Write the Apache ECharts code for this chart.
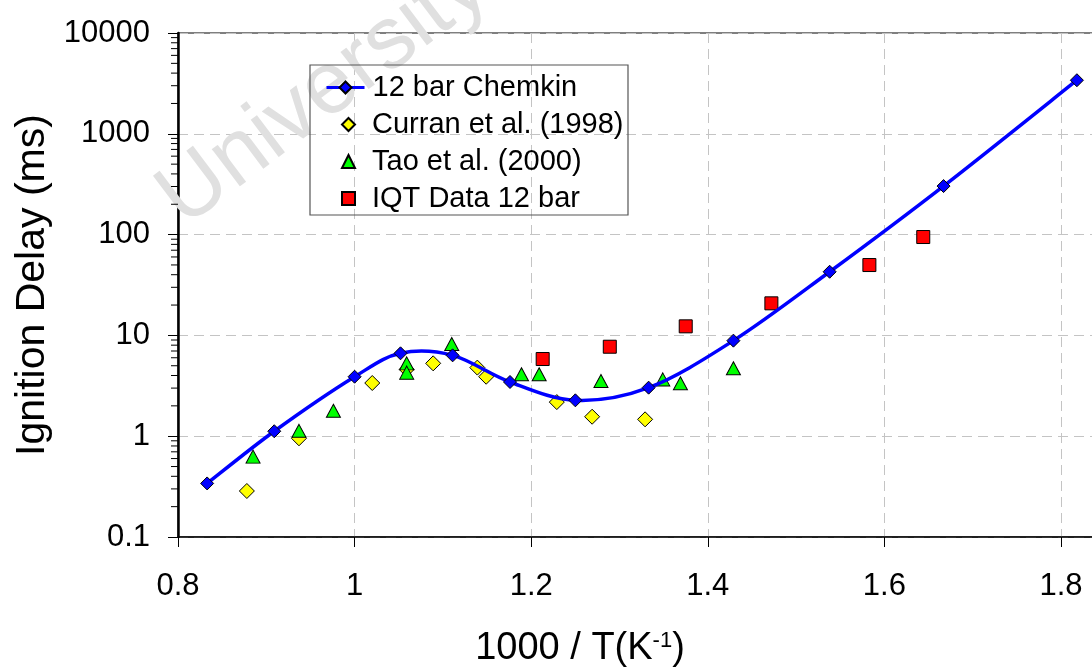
<!DOCTYPE html>
<html>
<head>
<meta charset="utf-8">
<script src="https://cdn.jsdelivr.net/npm/echarts@6/dist/echarts.min.js"></script>
<style>html,body{margin:0;padding:0;background:#fff;}#c{width:1092px;height:671px;}</style>
</head>
<body>
<div id="c"></div>
<script>
// ---- data ----
const chemkinX = [0.833, 0.909, 1.0, 1.052, 1.111, 1.176, 1.25, 1.333, 1.429, 1.538, 1.667, 1.818];
const chemkinY = [0.34, 1.12, 3.89, 6.64, 6.34, 3.45, 2.27, 3.03, 8.87, 42.8, 303, 3400];
const curranX = [0.878, 0.937, 1.02, 1.059, 1.089, 1.139, 1.149, 1.229, 1.269, 1.329];
const curranY = [0.286, 0.953, 3.37, 4.6, 5.28, 4.79, 3.89, 2.18, 1.56, 1.47];
const taoX = [0.885, 0.937, 0.976, 1.059, 1.059, 1.11, 1.189, 1.209, 1.279, 1.349, 1.369, 1.429];
const taoY = [0.627, 1.13, 1.79, 5.28, 4.27, 8.22, 4.11, 4.11, 3.53, 3.66, 3.35, 4.72];
const iqtX = [1.213, 1.289, 1.375, 1.472, 1.583, 1.644];
const iqtY = [5.83, 7.72, 12.3, 20.8, 49.9, 94.6];
const seriesNames = ['12 bar Chemkin', 'Curran et al. (1998)', 'Tao et al. (2000)', 'IQT Data 12 bar'];
const xTicks = [0.8, 1, 1.2, 1.4, 1.6, 1.8];
const yDecades = [0.1, 1, 10, 100, 1000, 10000];
const minorMultipliers = [2, 3, 4, 5, 6, 7, 8, 9];

const pair = (xs, ys) => xs.map((x, i) => [x, ys[i]]);
const minorTicks = [];
yDecades.slice(0, -1).forEach(d => minorMultipliers.forEach(m => minorTicks.push(+(d * m).toPrecision(3))));

const FONT = "'Liberation Sans', Arial, sans-serif";
const chart = echarts.init(document.getElementById('c'), null, {renderer: 'canvas'});
const gridLine = {show: true, lineStyle: {color: '#c4c4c4', type: [10, 6], width: 1}};
const BLUE = '#0000FF';

// Spreadsheet-style smoothed curve (cardinal spline, 1/6 tension) through the Chemkin points,
// positioned with the chart's own coordinate system.
function smoothPath(api) {
  const p = chemkinX.map((x, i) => api.coord([x, chemkinY[i]]));
  const n = p.length;
  let d = 'M' + p[0][0] + ',' + p[0][1];
  for (let i = 0; i < n - 1; i++) {
    const p0 = p[Math.max(i - 1, 0)], p1 = p[i], p2 = p[i + 1], p3 = p[Math.min(i + 2, n - 1)];
    const c1 = [p1[0] + (p2[0] - p0[0]) / 6, p1[1] + (p2[1] - p0[1]) / 6];
    const c2 = [p2[0] - (p3[0] - p1[0]) / 6, p2[1] - (p3[1] - p1[1]) / 6];
    d += 'C' + c1[0] + ',' + c1[1] + ',' + c2[0] + ',' + c2[1] + ',' + p2[0] + ',' + p2[1];
  }
  return d;
}

const legendText = {fontFamily: FONT, fontSize: 29, lineHeight: 37, color: '#000'};

chart.setOption({
  animation: false,
  backgroundColor: '#fff',
  grid: {left: 178, top: 33, width: 1059.6, height: 504, show: true, borderColor: '#555', borderWidth: 1.5, outerBoundsMode: 'none'},
  legend: [
    {
      left: 325, top: 69, orient: 'vertical', padding: 0, itemGap: 0,
      itemWidth: 38, itemHeight: 15,
      textStyle: Object.assign({padding: [0, 0, 0, 3]}, legendText),
      data: [{name: seriesNames[0], lineStyle: {color: BLUE, width: 3, opacity: 1, type: 'solid'}}]
    },
    {
      left: 341, top: 106, orient: 'vertical', padding: 0, itemGap: 0,
      itemWidth: 13, itemHeight: 13,
      textStyle: Object.assign({padding: [0, 0, 0, 12]}, legendText),
      data: seriesNames.slice(1)
    }
  ],
  graphic: [
    {type: 'rect', z: 5, shape: {x: 310, y: 65, width: 318, height: 150}, style: {fill: 'transparent', stroke: '#555', lineWidth: 1.2}},
    {type: 'text', z: 1, x: 196, y: 244, rotation: 37 * Math.PI / 180,
     style: {text: 'University', font: "88px 'Liberation Sans', Arial", fill: '#e0e0e0', textAlign: 'left', textVerticalAlign: 'bottom'}},
    {type: 'text', z: 6, x: 580, y: 649,
     style: {text: '1000 / T(K{sup|-1})', font: "38px 'Liberation Sans', Arial", fill: '#000', textAlign: 'center', textVerticalAlign: 'middle',
       rich: {sup: {fontSize: 22, fontFamily: FONT, verticalAlign: 'top', padding: [0, 0, 14, 0]}}}}
  ],
  xAxis: {
    type: 'value', min: 0.8, max: 2.0, interval: 0.2,
    axisLine: {onZero: false, lineStyle: {color: '#000', width: 1.5}},
    axisTick: {inside: false, length: 10, lineStyle: {color: '#000', width: 1}},
    axisLabel: {fontFamily: FONT, fontSize: 31, color: '#000', margin: 34},
    splitLine: gridLine
  },
  yAxis: {
    type: 'log', logBase: 10, min: 0.1, max: 10000,
    axisLine: {show: true, lineStyle: {color: '#000', width: 2.5}},
    axisTick: {show: true, length: 10, lineStyle: {color: '#000', width: 1}},
    axisLabel: {fontFamily: FONT, fontSize: 31, color: '#000', margin: 28, formatter: v => String(+v.toPrecision(3))},
    splitLine: gridLine,
    name: 'Ignition Delay (ms)', nameLocation: 'middle', nameGap: 125, nameRotate: 90,
    nameTextStyle: {fontFamily: FONT, fontSize: 41, color: '#000'}
  },
  series: [
    {
      name: 'minor ticks', type: 'custom', coordinateSystem: 'cartesian2d', clip: false, silent: true, z: 1,
      data: minorTicks.map(v => [xTicks[0], v]),
      renderItem: (params, api) => {
        const p = api.coord([api.value(0), api.value(1)]);
        return {type: 'line', shape: {x1: p[0] - 7, y1: p[1], x2: p[0], y2: p[1]}, style: {stroke: '#000', lineWidth: 1}};
      }
    },
    {
      name: seriesNames[1], type: 'scatter', z: 2, data: pair(curranX, curranY),
      symbol: 'diamond', symbolSize: 15,
      itemStyle: {color: '#FFFF00', borderColor: '#000', borderWidth: 1, opacity: 1}
    },
    {
      name: seriesNames[2], type: 'scatter', z: 3, data: pair(taoX, taoY),
      symbol: 'triangle', symbolSize: [14, 13],
      itemStyle: {color: '#00FF00', borderColor: '#000', borderWidth: 1, opacity: 1}
    },
    {
      name: seriesNames[3], type: 'scatter', z: 3, data: pair(iqtX, iqtY),
      symbol: 'rect', symbolSize: 13,
      itemStyle: {color: '#FF0000', borderColor: '#000', borderWidth: 1, opacity: 1}
    },
    {
      name: 'chemkin curve', type: 'custom', coordinateSystem: 'cartesian2d', silent: true, z: 4,
      data: [[chemkinX[0], chemkinY[0]]],
      renderItem: (params, api) => ({
        type: 'path', shape: {pathData: smoothPath(api)},
        style: {stroke: BLUE, lineWidth: 3.5, fill: 'none'}
      })
    },
    {
      name: seriesNames[0], type: 'line', z: 5, data: pair(chemkinX, chemkinY),
      symbol: 'diamond', symbolSize: 13, showAllSymbol: true,
      lineStyle: {color: BLUE, width: 3, opacity: 0},
      itemStyle: {color: BLUE, borderColor: '#000', borderWidth: 1}
    }
  ]
});
</script>
</body>
</html>
